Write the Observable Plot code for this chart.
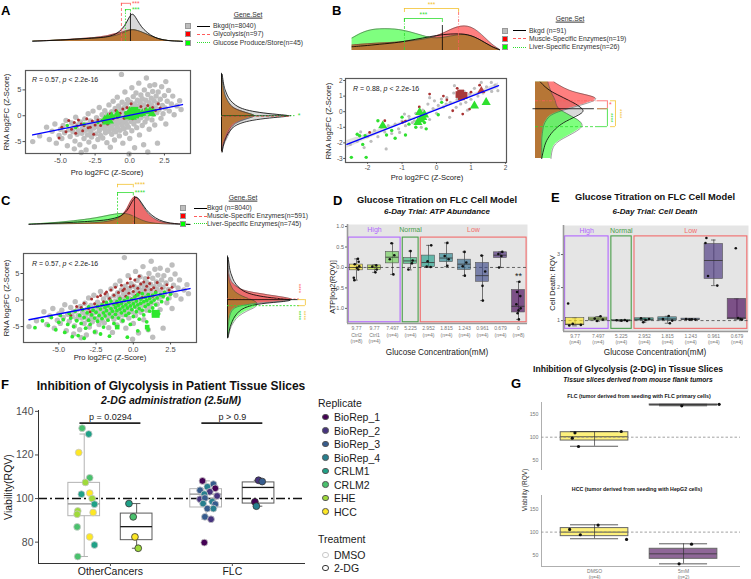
<!DOCTYPE html>
<html>
<head>
<meta charset="utf-8">
<script src="https://cdn.jsdelivr.net/npm/d3@7"></script>
<script src="https://cdn.jsdelivr.net/npm/@observablehq/plot@0.6"></script>
<style>
html,body{margin:0;padding:0;background:#fff;}
#fig{position:relative;width:751px;height:579px;overflow:hidden;font-family:"Liberation Sans",Arial,Helvetica,sans-serif;}
.t{position:absolute;white-space:nowrap;line-height:1;}
</style>
</head>
<body>
<div id="fig"></div>
<script>
// ======================= DATA =======================
// Panels A & C: background genes (Bkgd, n=8040), [Pro log2FC, RNA log2FC]
const bkgdPts = [[-7.0,-5.0],[-6.5,-3.9],[-6.0,-2.2],[-5.8,-4.6],[-5.6,-3.0],[-5.4,-1.6],[-5.3,-5.3],[-5.1,-3.8],[-5.0,-2.6],
[-4.9,-4.4],[-4.8,-1.9],[-4.7,-3.3],[-4.6,-0.9],[-4.5,-5.8],[-4.4,-2.7],[-4.3,-4.0],[-4.2,-1.4],[-4.1,-3.1],[-4.0,-6.4],[-4.0,-2.2],
[-3.95,-4.9],[-3.9,-0.3],[-3.8,-3.6],[-3.75,-1.8],[-3.7,-2.9],[-3.6,-5.6],[-3.55,-1.2],[-3.5,-7.1],[-3.45,-3.4],[-3.4,-2.3],[-3.3,-4.4],[-3.25,-0.6],[-3.2,-2.8],[-3.15,-6.6],[-3.1,-1.7],[-3.05,-3.7],[-3.0,-2.0],[-3.0,0.4],
[-2.95,-5.1],[-2.9,-2.6],[-2.85,-1.0],[-2.8,-3.2],[-2.75,-4.1],[-2.7,-1.9],[-2.65,0.9],[-2.6,-2.4],[-2.55,-6.0],[-2.5,-1.3],[-2.45,-3.5],[-2.4,-0.4],[-2.35,-2.1],[-2.3,-4.6],[-2.25,-1.6],[-2.2,1.6],[-2.2,-2.9],[-2.15,-0.9],[-2.1,-3.8],[-2.05,-1.2],[-2.0,-2.3],[-2.0,0.2],
[-1.95,-4.3],[-1.9,-1.7],[-1.85,-0.5],[-1.8,-2.6],[-1.8,1.0],[-1.75,-3.3],[-1.7,-1.0],[-1.65,-5.2],[-1.6,-2.0],[-1.6,0.3],[-1.55,-1.4],[-1.5,-3.0],[-1.5,2.1],[-1.45,-0.7],[-1.4,-2.4],[-1.4,-6.1],[-1.35,-1.1],[-1.3,0.8],[-1.3,-3.6],[-1.25,-1.8],[-1.2,-0.2],[-1.2,2.8],[-1.15,-2.7],[-1.1,-0.9],[-1.1,-4.7],[-1.05,1.4],[-1.0,-1.5],[-1.0,-0.1],[-1.0,-3.1],
[-0.95,0.6],[-0.9,-2.2],[-0.9,3.6],[-0.85,-0.6],[-0.8,1.9],[-0.8,-1.4],[-0.75,-3.9],[-0.7,0.2],[-0.7,-2.8],[-0.65,1.2],[-0.6,8.0],[-0.6,-0.9],[-0.55,-1.9],[-0.55,2.6],[-0.5,-5.3],[-0.5,0.9],[-0.45,-0.3],[-0.4,-2.5],[-0.4,1.6],[-0.35,4.6],[-0.35,-1.2],[-0.3,0.4],[-0.3,-3.4],[-0.25,2.2],[-0.2,-0.7],[-0.2,-1.7],[-0.15,3.1],[-0.1,0.1],[-0.1,-2.2],[-0.05,1.3],[-0.05,-7.4],[0.0,-0.4],[0.0,-4.4],
[0.05,2.6],[0.1,-1.1],[0.1,0.7],[0.15,5.4],[0.15,-2.9],[0.2,1.8],[0.2,-0.2],[0.25,3.7],[0.3,-1.6],[0.3,0.9],[0.35,-6.2],[0.35,2.3],[0.4,-0.7],[0.45,1.4],[0.45,4.4],[0.5,-2.3],[0.5,0.3],[0.55,3.0],[0.6,-1.0],[0.6,1.9],[0.65,6.3],[0.7,0.6],[0.7,-3.7],[0.75,2.6],[0.8,-0.4],[0.8,4.0],[0.85,1.2],[0.9,-1.9],[0.9,3.3],[0.95,0.0],[1.0,2.1],[1.0,-5.6],
[1.05,5.0],[1.1,0.9],[1.1,-1.2],[1.15,3.0],[1.2,7.3],[1.2,1.7],[1.25,-0.5],[1.3,4.1],[1.35,0.4],[1.4,2.5],[1.4,-2.6],[1.45,5.8],[1.5,1.1],[1.55,3.4],[1.6,-0.8],[1.6,2.0],[1.65,4.7],[1.7,0.3],[1.75,2.9],[1.8,-1.8],[1.8,6.0],[1.85,1.5],[1.9,3.8],[1.95,0.6],[2.0,2.4],[2.0,-5.3],
[2.05,4.6],[2.1,1.2],[2.2,3.2],[2.25,-0.5],[2.3,5.6],[2.35,2.0],[2.4,0.4],[2.5,3.9],[2.55,1.5],[2.6,-1.6],[2.7,2.8],[2.8,4.9],[2.85,0.9],[3.0,2.3],[3.1,3.8],[3.2,0.2],[3.4,1.9],[3.6,2.9],[3.7,1.2],[2.6,6.6],[1.3,-7.0]];
const fitAC = [[-7.0,-3.7],[3.8,2.15]];
// Panel A: Glycolysis (n=97)
const glyPts = [[-5.1,-4.3],[-4.9,-2.2],[-4.6,-3.1],[-4.4,-0.9],[-4.2,-2.6],[-4.0,-1.3],[-3.8,-2.0],[-3.7,-0.8],[-3.5,-1.6],[-3.4,-2.9],[-3.3,-1.9],[-3.1,-0.6],[-3.0,-2.3],[-2.85,-2.2],[-2.7,-1.0],[-2.5,-1.8],[-2.3,-0.8],[-2.1,-1.9],[-1.9,-1.2],[-1.75,-0.3],[-1.6,-1.6],[-1.4,0.4],[-1.2,-0.6],[-1.0,1.0],[-0.9,-0.3],[-0.7,0.5],[-0.5,1.3],[-0.4,-0.5],[-0.2,1.6],[-0.1,0.3],[0.1,2.3],[0.2,-0.6],[0.35,1.2],[0.5,0.1],[0.7,0.7],[0.8,1.8],[1.0,0.4],[1.15,1.3],[1.3,2.0],[1.5,0.8],[1.65,1.6],[1.85,1.0],[2.05,2.3],[2.2,1.5],[-2.6,-3.6],[-3.9,-3.4]];
// Panel A: Glucose Produce/Store (n=45)
const gluDots = [[-4.5,-1.9],[-3.9,-2.3],[-3.3,-1.6],[-2.3,-1.3],[-2.0,-0.9],[-0.8,-0.2],[0.9,0.2],[1.7,1.1],[-0.3,0.6],[0.6,0.9]];
const gluTri = [[-1.8,-0.7],[-1.6,-0.4],[-1.45,-1.0],[-1.3,-0.1],[-0.9,0.3],[-0.2,0.1],[0.1,0.5],[0.2,-0.3],[0.65,0.3],[0.9,0.5],[1.2,0.8],[1.45,0.9],[1.6,0.4],[-1.7,-1.2],[0.0,0.9],[-0.1,-0.2]];
const gluSq = [[0.35,1.0],[0.5,0.6],[0.4,0.2]];
// Panel C: Muscle-Specific (n=591), Liver-Specific (n=745)
const musclePtsC = [[-4.2,-2.9],[-3.8,-1.2],[-3.5,-1.4],[-3.3,-0.6],[-3.0,-1.6],[-2.8,0.2],[-2.6,-0.7],[-2.4,0.6],[-2.2,0.85],[-2.0,-0.3],[-1.9,1.2],[-1.8,1.5],[-1.6,0.3],[-1.5,1.9],[-1.3,0.9],[-1.2,2.4],[-1.0,1.4],[-0.9,0.4],[-0.8,2.8],[-0.7,1.8],[-0.6,2.1],[-0.5,0.7],[-0.4,3.2],[-0.3,1.3],[-0.2,2.5],[-0.1,0.2],[0.0,2.7],[0.0,1.6],[0.1,3.8],[0.2,0.9],[0.3,2.2],[0.4,1.4],[0.5,3.0],[0.6,0.5],[0.7,3.4],[0.8,1.9],[0.9,2.6],[1.0,1.1],[1.1,3.1],[1.2,2.0],[1.3,0.7],[1.37,2.3],[1.5,1.6],[1.6,3.3],[1.8,1.0],[1.9,2.2],[2.1,1.4],[2.25,2.9],[2.4,1.9],[-2.9,-2.2],[-1.1,-0.6],[0.4,4.5],[-0.2,4.0],[1.0,4.2],[2.6,2.4]];
const liverPtsC = [[-6.6,-5.2],[-6.1,-3.9],[-5.7,-4.8],[-5.5,-3.3],[-5.2,-5.6],[-5.0,-4.2],[-4.9,-2.9],[-4.7,-3.7],[-4.6,-6.1],[-4.4,-4.6],[-4.3,-2.5],[-4.2,-3.4],[-4.0,-5.0],[-3.9,-2.1],[-3.8,-3.9],[-3.7,-6.7],[-3.6,-2.9],[-3.5,-4.4],[-3.4,-1.8],[-3.3,-3.3],[-3.2,-5.3],[-3.1,-2.4],[-3.0,-3.8],[-3.0,-1.3],[-2.9,-4.6],[-2.8,-2.8],[-2.7,-1.9],[-2.6,-3.4],[-2.6,-6.0],[-2.5,-2.3],[-2.4,-1.2],[-2.4,-4.0],[-2.3,-2.9],[-2.2,-1.7],[-2.1,-3.5],[-2.1,-0.9],[-2.0,-2.4],[-2.0,-5.1],[-1.9,-1.4],[-1.9,-3.0],[-1.8,-2.0],[-1.8,-0.5],[-1.7,-3.8],[-1.7,-1.1],[-1.6,-2.6],[-1.6,-6.8],[-1.5,-1.6],[-1.5,-0.2],[-1.4,-3.2],[-1.4,-2.1],[-1.3,-0.8],[-1.3,-4.4],[-1.2,-1.4],[-1.2,-2.7],[-1.1,-0.3],[-1.1,-2.0],[-1.0,-1.0],[-1.0,-3.4],[-0.9,-1.7],[-0.9,0.2],[-0.8,-2.4],[-0.8,-0.6],[-0.7,-1.3],[-0.7,-3.9],[-0.6,-0.1],[-0.6,-2.0],[-0.5,-0.9],[-0.5,-2.9],[-0.4,0.4],[-0.4,-1.5],[-0.3,-0.4],[-0.3,-2.5],[-0.2,-1.1],[-0.2,-4.6],[-0.1,0.1],[-0.1,-1.8],[0.0,-0.7],[0.0,-3.1],[0.1,0.6],[0.1,-1.3],[0.2,-0.2],[0.2,-2.2],[0.3,-0.9],[0.3,1.0],[0.4,-1.6],[0.4,-3.6],[0.5,0.2],[0.5,-0.6],[0.6,-1.9],[0.6,1.2],[0.7,-0.3],[0.7,-2.8],[0.8,0.5],[0.8,-1.2],[0.9,-0.1],[0.9,-4.1],[1.0,1.0],[1.0,-0.8],[1.1,-2.1],[1.1,0.3],[1.2,-0.4],[1.3,0.9],[1.3,-1.5],[1.4,0.0],[1.5,1.4],[1.5,-0.9],[1.6,0.4],[1.7,-2.6],[1.8,1.0],[1.9,-0.3],[2.0,0.7],[2.1,1.5],[2.3,0.2],[2.5,1.1],[-3.3,-7.2],[-4.1,-6.9],[-2.2,-6.4],[0.3,-5.8],[-0.4,-7.0],[1.0,-5.6]];
const liverSqC = [[1.5,-2.6]];
const liverSqSmallC = [[-1.08,-5.1],[0.93,-5.1]];
// Panel B
const bkgdPtsB = [[-2.5,-2.1],[-2.3,-1.9],[-2.2,-1.3],[-2.0,-1.6],[-1.9,-1.9],[-1.8,-1.2],[-1.7,-1.6],[-1.6,-1.0],[-1.5,-1.3],[-1.46,-2.39],[-1.4,-0.9],[-1.3,-1.4],[-1.2,-0.8],[-1.1,-1.1],[-1.07,-1.33],[-1.0,-0.6],[-0.93,-0.15],[-0.9,-0.9],[-0.8,-0.3],[-0.78,-0.47],[-0.7,-0.7],[-0.64,-0.58],[-0.6,-0.1],[-0.5,-0.35],[-0.44,-1.0],[-0.4,0.1],[-0.3,-0.2],[-0.25,0.49],[-0.2,-0.5],[-0.1,0.2],[-0.06,0.7],[0.0,-0.1],[0.05,0.4],[0.14,0.81],[0.2,0.3],[0.28,0.49],[0.3,0.9],[0.38,-0.36],[0.4,0.6],[0.5,1.2],[0.52,1.67],[0.57,0.28],[0.6,0.8],[0.7,0.5],[0.8,1.3],[0.85,0.6],[0.96,1.13],[1.0,0.8],[1.1,1.5],[1.2,1.0],[1.3,1.88],[1.35,1.2],[1.45,1.6],[1.59,1.88],[1.6,1.3],[1.7,1.7],[1.78,1.35],[-2.1,-2.3],[-0.2,0.9],[0.9,0.1]];
const musclePtsB = [[-1.94,-1.33],[-1.5,-0.58],[-0.98,-0.68],[-0.9,-0.6],[-0.2,1.13],[0.2,1.0],[0.47,0.06],[0.76,-0.15],[0.96,0.17],[0.3,0.75],[1.0,1.25],[0.6,1.5],[-0.5,0.3],[1.25,1.7],[0.85,0.9]];
const muscleSqB = [[0.65,1.1],[0.72,0.95],[0.8,1.05],[0.7,1.2]];
const muscleTriB = [[1.3,1.35]];
const liverPtsB = [[-2.47,-2.93],[-2.04,-2.93],[-2.23,-1.54],[-2.07,-1.54],[-2.14,-2.1],[-2.3,-1.45],[-1.7,-0.58],[-1.45,-1.5],[-1.3,-1.2],[-1.2,-1.7],[-1.0,-0.35],[-0.9,-1.5],[-0.8,-0.8],[-0.6,-1.0],[-0.35,-0.7],[0.05,-0.2],[0.15,0.6],[-0.3,-1.1]];
const liverTriB = [[-0.49,-0.04],[-0.4,-0.36],[-0.54,-0.68],[-0.45,-0.5],[-0.35,-0.2],[-1.56,-0.9],[1.1,0.38],[1.44,0.6]];
const fitB = [[-2.6,-2.1],[1.8,1.67]];
const bandB = [[-2.6,-2.35,-1.85],[-1.0,-0.81,-0.65],[0.0,0.06,0.2],[1.0,0.9,1.08],[1.8,1.48,1.86]];
// Marginal densities (1 = tallest peak)
const densAx   = [-7.0,-6,-5,-4,-3,-2,-1.5,-1,-0.5,-0.2,0,0.2,0.4,0.7,1,1.5,2,2.5,3,3.8];
const densAbk  = [0.01,0.03,0.05,0.08,0.11,0.14,0.18,0.25,0.45,0.7,0.9,1.0,0.88,0.62,0.42,0.22,0.1,0.05,0.02,0.005];
const densAgly = [0.01,0.03,0.06,0.09,0.12,0.17,0.22,0.28,0.34,0.39,0.41,0.42,0.41,0.37,0.31,0.2,0.11,0.05,0.02,0.005];
const densAglu = [0.01,0.03,0.05,0.08,0.11,0.14,0.17,0.21,0.3,0.37,0.41,0.42,0.41,0.37,0.31,0.2,0.11,0.05,0.02,0.005];
const densAy    = [8,6,5,4,3,2,1.5,1,0.5,0.2,0,-0.2,-0.5,-1,-1.5,-2,-3,-4,-5,-6,-7];
const densAybk  = [0.01,0.03,0.05,0.08,0.12,0.2,0.27,0.38,0.6,0.85,1.0,0.88,0.62,0.38,0.26,0.18,0.11,0.07,0.04,0.02,0.01];
const densAygly = [0,0.02,0.03,0.05,0.08,0.13,0.18,0.26,0.38,0.45,0.47,0.45,0.38,0.27,0.2,0.16,0.12,0.09,0.05,0.02,0.01];
const densAyglu = [0,0.02,0.03,0.05,0.08,0.13,0.17,0.25,0.38,0.46,0.48,0.45,0.37,0.25,0.18,0.14,0.09,0.06,0.03,0.01,0.005];
const densBx   = [-2.45,-2.2,-2,-1.8,-1.5,-1.2,-1,-0.8,-0.6,-0.4,-0.2,0,0.2,0.4,0.6,0.8,1,1.2,1.4,1.6,1.83];
const densBbk  = [0.15,0.18,0.2,0.23,0.27,0.31,0.35,0.4,0.45,0.5,0.55,0.6,0.64,0.66,0.67,0.66,0.6,0.48,0.32,0.15,0.03];
const densBmus = [0.22,0.25,0.27,0.29,0.31,0.33,0.35,0.38,0.41,0.45,0.5,0.58,0.7,0.84,0.95,1.0,0.95,0.78,0.52,0.25,0.04];
const densBliv = [0.5,0.7,0.8,0.86,0.88,0.86,0.82,0.76,0.68,0.6,0.52,0.5,0.52,0.58,0.63,0.65,0.6,0.48,0.32,0.15,0.03];
const densBy    = [1.9,1.6,1.3,1.1,0.9,0.7,0.5,0.3,0.1,-0.1,-0.3,-0.5,-0.7,-0.9,-1.1,-1.4,-1.7,-2.0,-2.3,-2.6,-3.0];
const densBybk  = [0.08,0.15,0.25,0.35,0.45,0.55,0.65,0.72,0.78,0.75,0.65,0.55,0.45,0.38,0.32,0.25,0.2,0.16,0.14,0.12,0.1];
const densBymus = [0.3,0.42,0.58,0.8,1.0,0.95,0.8,0.62,0.45,0.3,0.22,0.18,0.15,0.13,0.12,0.11,0.1,0.1,0.1,0.1,0.1];
const densByliv = [0.2,0.22,0.25,0.27,0.3,0.32,0.33,0.35,0.4,0.5,0.58,0.68,0.74,0.76,0.72,0.6,0.45,0.33,0.28,0.26,0.25];
const densCx   = [-7.0,-6,-5,-4,-3,-2.5,-2,-1.5,-1,-0.7,-0.4,-0.2,0,0.2,0.4,0.7,1,1.5,2,2.5,3,3.8];
const densCbk  = [0.01,0.03,0.05,0.08,0.11,0.13,0.15,0.19,0.26,0.35,0.5,0.7,0.9,1.0,0.9,0.65,0.43,0.22,0.1,0.05,0.02,0.005];
const densCmus = [0,0.01,0.02,0.03,0.05,0.07,0.09,0.13,0.22,0.35,0.58,0.82,0.98,1.0,0.88,0.6,0.36,0.16,0.07,0.03,0.01,0];
const densCliv = [0.01,0.04,0.08,0.13,0.2,0.24,0.29,0.35,0.39,0.4,0.38,0.35,0.3,0.25,0.2,0.13,0.08,0.04,0.02,0.01,0,0];
const densCy    = [8,6,5,4,3,2,1.5,1,0.5,0.2,0,-0.3,-0.6,-1,-1.5,-2,-3,-4,-5,-6,-7];
const densCybk  = [0.01,0.03,0.05,0.08,0.12,0.2,0.27,0.38,0.6,0.85,1.0,0.85,0.55,0.36,0.25,0.18,0.11,0.07,0.04,0.02,0.01];
const densCymus = [0,0.01,0.02,0.04,0.08,0.2,0.35,0.6,0.88,0.98,0.97,0.75,0.45,0.2,0.1,0.06,0.03,0.02,0.01,0,0];
const densCyliv = [0,0.01,0.01,0.02,0.04,0.08,0.12,0.18,0.27,0.34,0.38,0.43,0.45,0.45,0.4,0.3,0.16,0.1,0.05,0.03,0.01];
// medians of each gene set
const medA  = {bk:0.05, gly:-0.6, glu:-0.31};
const medAy = {bk:0.0, gly:-0.1, glu:0.02};
const medB  = {bk:0.17, mus:0.64, liv:-0.93};
const medBy = {bk:0.19, mus:0.7, liv:-0.96};
const medC  = {bk:0.08, mus:0.0, liv:-1.06};
const medCy = {bk:0.08, mus:0.2, liv:-1.06};

// Panel D: ATP abundance
const dLabels = ["9.77\nCtrl2\n(n=8)","9.77\nCtrl1\n(n=4)","7.497\n(n=4)","5.225\n(n=4)","2.952\n(n=4)","1.815\n(n=4)","1.243\n(n=4)","0.961\n(n=4)","0.679\n(n=4)","0\n(n=8)"];
const dQ1  = [-0.07,-0.06,0.10,0.09,0.01,0.13,-0.06,-0.35,0.23,-1.10];
const dMed = [0.00,0.00,0.25,0.16,0.12,0.23,0.08,-0.20,0.30,-0.95];
const dQ3  = [0.07,0.05,0.38,0.23,0.29,0.33,0.19,0.11,0.37,-0.55];
const dLo  = [-0.31,-0.12,-0.17,-0.06,0.00,0.02,-0.20,-0.81,0.00,-1.27];
const dHi  = [0.21,0.06,0.59,0.40,0.54,0.60,0.38,0.29,0.38,-0.35];
const dPts = [[0,0.21,0.08],[0,0.14,0.12],[0,0.08,-0.1],[0,0.03,0.15],[0,-0.01,0.02],[0,-0.05,0.1],[0,-0.25,-0.15],[0,-0.31,-0.12],
[1,0.05,0.1],[1,0.02,-0.12],[1,-0.05,0.12],[1,-0.12,0.05],
[2,0.59,-0.05],[2,0.3,0.1],[2,0.2,-0.15],[2,-0.17,0.05],
[3,0.40,0.0],[3,0.17,0.12],[3,0.10,0.08],[3,-0.05,-0.12],
[4,0.54,0.15],[4,0.15,-0.05],[4,0.02,-0.1],[4,0.01,0.12],
[5,0.60,0.05],[5,0.28,-0.1],[5,0.20,0.12],[5,0.04,0.05],
[6,0.38,0.0],[6,0.12,0.1],[6,0.03,-0.1],[6,-0.20,0.02],
[7,0.29,-0.05],[7,-0.1,0.15],[7,-0.45,0.0],[7,-0.81,0.02],
[8,0.38,0.1],[8,0.33,-0.12],[8,0.28,0.05],[8,0.00,-0.08],
[9,-0.35,0.05],[9,-0.60,-0.08],[9,-0.70,0.1],[9,-0.90,-0.12],[9,-1.00,0.12],[9,-1.05,0.0],[9,-1.12,-0.05],[9,-1.27,0.02]];
const dGroups = [{label:"High",first:0,last:2,color:"#b266ff"},{label:"Normal",first:3,last:3,color:"#4a9e4a"},{label:"Low",first:4,last:9,color:"#f26b6b"}];
const dSig = [{i:9, v:-0.22, lab:"**"}];

// Panel E: cell death
const eLabels = ["9.77\n(n=4)","7.497\n(n=4)","5.225\n(n=4)","2.952\n(n=4)","1.815\n(n=4)","1.243\n(n=4)","0.961\n(n=4)","0.679\n(n=4)"];
const eQ1  = [0.86,1.00,0.99,1.00,1.00,1.02,2.26,1.04];
const eMed = [0.89,1.05,1.00,1.04,1.05,1.04,2.82,1.08];
const eQ3  = [1.08,1.09,1.02,1.07,1.10,1.06,3.32,1.66];
const eLo  = [0.84,0.98,0.98,0.95,0.92,1.02,2.06,1.03];
const eHi  = [1.08,1.12,1.02,1.07,1.13,1.06,3.44,1.66];
const ePts = [[0,1.52,-0.3],[0,0.90,-0.1],[0,0.87,0.25],[0,0.85,-0.25],
[1,1.13,0.1],[1,1.06,-0.15],[1,1.03,0.2],[1,0.99,-0.05],
[2,1.02,0.15],[2,1.01,-0.2],[2,1.00,0.0],[2,0.99,0.25],
[3,1.07,-0.15],[3,1.05,0.2],[3,1.02,0.05],[3,0.95,-0.05],
[4,1.14,0.05],[4,1.05,-0.2],[4,1.00,0.2],[4,0.92,0.1],
[5,1.05,-0.2],[5,1.04,0.05],[5,1.03,0.2],[5,1.03,-0.05],
[6,3.50,-0.32],[6,3.35,-0.36],[6,2.35,-0.25],[6,2.06,0.15],
[7,3.19,-0.05],[7,1.08,0.05],[7,1.05,0.15],[7,1.03,0.22]];
const eGroups = [{label:"High",first:0,last:1,color:"#b266ff"},{label:"Normal",first:2,last:2,color:"#4a9e4a"},{label:"Low",first:3,last:7,color:"#f26b6b"}];

// Panel F: patient tissue slices
const fGroupsX = ["OtherCancers","FLC"];
const fTreat = ["DMSO","2-DG"];
const fReps = ["BioRep_1","BioRep_2","BioRep_3","BioRep_4","CRLM1","CRLM2","EHE","HCC"];
const fStats = [
 {grp:"OtherCancers",trt:"DMSO",q1:91.9,med:97.6,q3:107.2,lo:73.4,hi:129.6},
 {grp:"OtherCancers",trt:"2-DG",q1:80.9,med:87.1,q3:93.1,lo:77.2,hi:97.7},
 {grp:"FLC",trt:"DMSO",q1:95.9,med:102.0,q3:104.3,lo:90.5,hi:108.1},
 {grp:"FLC",trt:"2-DG",q1:97.7,med:105.1,q3:107.4,lo:96.5,hi:108.4}];
const fPts = [
 ["OtherCancers","DMSO","CRLM2",132.3,-0.017],["OtherCancers","DMSO","CRLM1",129.6,0.037],["OtherCancers","DMSO","HCC",121.1,-0.045],
 ["OtherCancers","DMSO","CRLM2",109.5,0.045],["OtherCancers","DMSO","EHE",107.4,0.01],["OtherCancers","DMSO","HCC",102.5,0.045],
 ["OtherCancers","DMSO","CRLM1",102.0,-0.023],["OtherCancers","DMSO","EHE",100.0,0.065],["OtherCancers","DMSO","CRLM1",97.4,0.084],
 ["OtherCancers","DMSO","HCC",93.6,0.073],["OtherCancers","DMSO","EHE",94.3,-0.053],["OtherCancers","DMSO","EHE",92.8,-0.058],
 ["OtherCancers","DMSO","CRLM2",87.0,-0.058],["OtherCancers","DMSO","HCC",82.4,0.045],["OtherCancers","DMSO","CRLM1",78.7,0.084],
 ["OtherCancers","DMSO","CRLM2",73.4,-0.053],
 ["OtherCancers","2-DG","CRLM1",97.7,-0.063],["OtherCancers","2-DG","CRLM2",91.6,-0.028],["OtherCancers","2-DG","HCC",82.4,-0.014],["OtherCancers","2-DG","EHE",77.2,0.013],
 ["FLC","DMSO","BioRep_1",108.1,-0.03],["FLC","DMSO","BioRep_3",106.6,0.06],["FLC","DMSO","BioRep_4",105.4,0.01],["FLC","DMSO","BioRep_1",104.7,0.075],
 ["FLC","DMSO","BioRep_3",103.8,-0.05],["FLC","DMSO","BioRep_2",103.1,0.03],["FLC","DMSO","BioRep_4",102.0,-0.015],["FLC","DMSO","BioRep_2",101.2,0.09],
 ["FLC","DMSO","BioRep_2",99.7,-0.05],["FLC","DMSO","BioRep_3",100.2,-0.01],["FLC","DMSO","BioRep_4",98.6,0.05],["FLC","DMSO","BioRep_3",97.4,0.075],
 ["FLC","DMSO","BioRep_4",97.7,-0.025],["FLC","DMSO","BioRep_3",95.4,0.01],["FLC","DMSO","BioRep_4",95.4,0.06],["FLC","DMSO","BioRep_3",91.6,-0.01],
 ["FLC","DMSO","BioRep_2",90.5,0.04],["FLC","DMSO","BioRep_1",79.8,-0.015],
 ["FLC","2-DG","BioRep_2",108.4,0.0],["FLC","2-DG","BioRep_3",107.8,0.03],["FLC","2-DG","BioRep_1",98.5,-0.03],["FLC","2-DG","BioRep_4",96.5,-0.018]];
const fSig = [{grp:"OtherCancers",y:134.6,lab:"p = 0.0294"},{grp:"FLC",y:134.6,lab:"p > 0.9"}];

// Panel G: mouse flank tumour slices
const gTreat = ["DMSO\n(n=4)","5mM\n(n=2)"];
const gStatsFLC = [{t:0,q1:92.6,med:101,q3:111,lo:80,hi:112.5},{t:1,q1:170.3,med:171.3,q3:172.3,lo:169.3,hi:172.6}];
const gStatsHCC = [{t:0,q1:91.2,med:100,q3:108.8,lo:85.5,hi:116},{t:1,q1:41.7,med:52.6,q3:63.6,lo:30.7,hi:74.5}];
const gPtsFLC = [[0,109.7,-0.22],[0,97.8,-0.25],[0,79.5,-0.18],[0,112.6,0.3],[1,169.3,-0.02],[1,172.6,0.4]];
const gPtsHCC = [[0,105.9,-0.28],[0,94.3,-0.16],[0,115.3,0.04],[0,84.0,0.36],[1,73.7,0.09],[1,30.8,-0.05]];

// ======================= RENDERING =======================
const FONT = "Liberation Sans, Arial, Helvetica, sans-serif";
const fig = document.getElementById("fig");
function put(node, left, top){ Object.assign(node.style,{position:"absolute",left:left+"px",top:top+"px"}); fig.appendChild(node); }
function txt(s, x, y, o = {}){
  const d = document.createElement("div");
  d.className = "t";
  if (o.html) d.innerHTML = s; else d.textContent = s;
  d.style.fontSize = (o.size || 8) + "px";
  if (o.bold) d.style.fontWeight = "bold";
  if (o.italic) d.style.fontStyle = "italic";
  if (o.underline) d.style.textDecoration = "underline";
  d.style.color = o.color || "#1a1a1a";
  const ax = o.anchor === "middle" ? -50 : o.anchor === "end" ? -100 : 0;
  d.style.left = x + "px"; d.style.top = y + "px";
  d.style.transform = `translate(${ax}%,-50%)` + (o.rotate ? ` rotate(${o.rotate}deg)` : "");
  fig.appendChild(d);
}
function box(x, y, w, h, css){ const d = document.createElement("div"); Object.assign(d.style,{position:"absolute",left:x+"px",top:y+"px",width:w+"px",height:h+"px"}, css); fig.appendChild(d); }
const sty = (fs, col) => ({background:"transparent", fontFamily:FONT, fontSize:fs+"px", color:col || "#4d4d4d", overflow:"visible"});
const xy = {x:d=>d[0], y:d=>d[1]};

// density helpers
const rowsH = (xs,bk,r,g) => xs.map((p,i)=>({p, bk:bk[i], r:r[i], g:g[i]}));
const rowsV = (ys,bk,r,g) => ys.map((q,i)=>({q, bk:bk[i], r:r[i], g:g[i]}));
function hDens(rows){ return [
  Plot.areaY(rows,{x:"p",y:"bk",fill:"#d9d9d9",curve:"basis"}),
  Plot.areaY(rows,{x:"p",y:"g",fill:"#00ff00",fillOpacity:0.5,curve:"basis"}),
  Plot.areaY(rows,{x:"p",y:"r",fill:"#ff0000",fillOpacity:0.5,curve:"basis"}),
  Plot.lineY(rows,{x:"p",y:"g",stroke:"#3a3a3a",strokeWidth:0.5,curve:"basis"}),
  Plot.lineY(rows,{x:"p",y:"r",stroke:"#3a3a3a",strokeWidth:0.5,curve:"basis"}),
  Plot.lineY(rows,{x:"p",y:"bk",stroke:"#000",strokeWidth:0.8,curve:"basis"})]; }
function vDens(rows){ return [
  Plot.areaX(rows,{y:"q",x:"bk",fill:"#d9d9d9",curve:"basis"}),
  Plot.areaX(rows,{y:"q",x:"g",fill:"#00ff00",fillOpacity:0.5,curve:"basis"}),
  Plot.areaX(rows,{y:"q",x:"r",fill:"#ff0000",fillOpacity:0.5,curve:"basis"}),
  Plot.lineX(rows,{y:"q",x:"g",stroke:"#3a3a3a",strokeWidth:0.5,curve:"basis"}),
  Plot.lineX(rows,{y:"q",x:"r",stroke:"#3a3a3a",strokeWidth:0.5,curve:"basis"}),
  Plot.lineX(rows,{y:"q",x:"bk",stroke:"#000",strokeWidth:0.8,curve:"basis"})]; }
function hBr(br){ return [
  Plot.ruleY(br,{y:"lev",x1:"a",x2:"b",stroke:"col",strokeWidth:0.8}),
  Plot.ruleX(br,{x:"a",y1:"lev",y2:d=>d.lev-d.drop,stroke:"col",strokeWidth:0.8}),
  Plot.ruleX(br,{x:"b",y1:"lev",y2:d=>d.lev-d.drop,stroke:"col",strokeWidth:0.8})]; }
function vBr(br){ return [
  Plot.ruleX(br,{x:"x",y1:"a",y2:"b",stroke:"col",strokeWidth:0.8}),
  Plot.ruleY(br,{y:"a",x1:"x0",x2:"x",stroke:"col",strokeWidth:0.8}),
  Plot.ruleY(br,{y:"b",x1:"x0",x2:"x",stroke:"col",strokeWidth:0.8})]; }
const RED = "#ff5c5c", GRN = "#2fdc2f", YEL = "#f2c12e";
function scatterAxes(xt, xf, yt, fs, ts, tp){ return [
  Plot.axisX({ticks:xt,tickFormat:xf,tickSize:ts,tickPadding:tp,fontSize:fs,label:null}),
  Plot.axisY({ticks:yt,tickFormat:d=>String(d),tickSize:ts,tickPadding:tp,fontSize:fs,label:null})]; }

// ---------------- Panel A ----------------
const xDomA = [-7.52,4.38], yDomA = [-7.3,8.75];
put(Plot.plot({width:200,height:125,marginLeft:25,marginRight:10,marginTop:10,marginBottom:32,style:sty(7.5),
  x:{domain:xDomA}, y:{domain:yDomA},
  marks:[
    Plot.dot(bkgdPts,{...xy,r:2.7,fill:"#bebebe"}),
    Plot.dot(glyPts,{...xy,r:1.5,fill:"#a83232"}),
    Plot.dot(gluDots,{...xy,r:1.7,fill:"#2fe02f"}),
    Plot.dot(gluTri,{...xy,r:3.2,symbol:"triangle",fill:"#2fe02f"}),
    Plot.dot(gluSq,{...xy,r:4.2,symbol:"square",fill:"#2fe02f"}),
    Plot.line(fitAC,{...xy,stroke:"#0000ff",strokeWidth:1.5}),
    Plot.frame({stroke:"#595959",strokeWidth:1.2}),
    ...scatterAxes([-5,-2.5,0,2.5], d=>d.toFixed(1), [-5,0,5], 7.5, 2.5, 1.5)
  ]}), 0, 60);
const brA = [{a:medA.gly,b:medA.bk,lev:1.35,drop:0.09,col:RED,lab:"***"},{a:medA.glu,b:medA.bk,lev:1.13,drop:0.09,col:GRN,lab:"***"}];
put(Plot.plot({width:200,height:45,marginLeft:25,marginRight:10,marginTop:0,marginBottom:4,style:sty(6),color:{type:"identity"},
  x:{domain:xDomA,axis:null}, y:{domain:[0,1.45],axis:null},
  marks:[...hDens(rowsH(densAx,densAbk,densAgly,densAglu)),
    Plot.ruleX([medA.gly],{y1:0,y2:1.35,stroke:RED,strokeDasharray:"3,2",strokeWidth:0.8}),
    Plot.ruleX([medA.glu],{y1:0,y2:1.13,stroke:GRN,strokeDasharray:"1.5,1.5",strokeWidth:0.8}),
    Plot.ruleX([medA.bk],{y1:0,y2:1.0,stroke:"#000",strokeWidth:0.8}),
    ...hBr(brA),
    Plot.text(brA,{x:"b",y:"lev",text:"lab",fill:"col",dx:1.5,dy:0.5,textAnchor:"start",fontSize:6.5})
  ]}), 0, 0);
put(Plot.plot({width:90,height:125,marginLeft:6,marginRight:14,marginTop:10,marginBottom:32,style:sty(6),color:{type:"identity"},
  x:{domain:[0,1],axis:null}, y:{domain:yDomA,axis:null},
  marks:[...vDens(rowsV(densAy,densAybk,densAygly,densAyglu)),
    Plot.ruleX([0],{y1:-6.9,y2:8.2,stroke:"#000",strokeWidth:0.8}),
    Plot.ruleY([medAy.gly],{x1:0,x2:1.0,stroke:RED,strokeDasharray:"3,2",strokeWidth:0.8}),
    Plot.ruleY([medAy.glu],{x1:0,x2:1.06,stroke:GRN,strokeDasharray:"1.5,1.5",strokeWidth:0.9}),
    Plot.ruleY([medAy.bk],{x1:0,x2:1.0,stroke:"#000",strokeWidth:0.6}),
    Plot.text([medAy.glu],{x:1.09,y:d=>d,text:["*"],fill:GRN,fontSize:7,textAnchor:"start"})
  ]}), 215, 60);

// ---------------- Panel B ----------------
const xDomB = [-2.64,2.03], yDomB = [-3.26,2.13];
put(Plot.plot({width:195,height:115,marginLeft:25,marginRight:9,marginTop:8,marginBottom:23,style:sty(6.5),
  x:{domain:xDomB}, y:{domain:yDomB},
  marks:[
    Plot.areaY(bandB,{x:d=>d[0],y1:d=>d[1],y2:d=>d[2],fill:"#bbbbbb",fillOpacity:0.45,curve:"natural"}),
    Plot.dot(bkgdPtsB,{...xy,r:1.6,fill:"#bdbdbd"}),
    Plot.dot(musclePtsB,{...xy,r:1.4,fill:"#a83232"}),
    Plot.dot(muscleSqB,{...xy,r:3.8,symbol:"square",fill:"#a83a3a"}),
    Plot.dot(muscleTriB,{...xy,r:3,symbol:"triangle",fill:"#b84040"}),
    Plot.dot(liverPtsB,{...xy,r:1.7,fill:"#2fe02f"}),
    Plot.dot(liverTriB,{...xy,r:3.4,symbol:"triangle",fill:"#2fe02f"}),
    Plot.line(fitB,{...xy,stroke:"#0000ff",strokeWidth:1.3}),
    Plot.frame({stroke:"#595959",strokeWidth:1.2}),
    ...scatterAxes([-2,-1,0,1,2], d=>String(d), [-3,-2,-1,0,1,2], 6.5, 1.8, 1)
  ]}), 320, 70);
const brB = [{a:medB.liv,b:medB.mus,lev:1.68,drop:0.16,col:YEL,lab:"***"},{a:medB.liv,b:medB.bk,lev:1.28,drop:0.16,col:GRN,lab:"***"}];
put(Plot.plot({width:195,height:52,marginLeft:25,marginRight:9,marginTop:0,marginBottom:2,style:sty(6),color:{type:"identity"},
  x:{domain:xDomB,axis:null}, y:{domain:[0,2],axis:null},
  marks:[...hDens(rowsH(densBx,densBbk,densBmus,densBliv)),
    Plot.ruleX([medB.liv],{y1:0,y2:1.28,stroke:GRN,strokeDasharray:"3,1.5,1,1.5",strokeWidth:0.8}),
    Plot.ruleX([medB.mus],{y1:0,y2:1.68,stroke:RED,strokeDasharray:"3,1.5,1,1.5",strokeWidth:0.8}),
    Plot.ruleX([medB.bk],{y1:0,y2:1.0,stroke:"#000",strokeWidth:0.8}),
    ...hBr(brB),
    Plot.text(brB,{x:d=>(d.a+d.b)/2,y:"lev",text:"lab",fill:"col",dy:-3.5,fontSize:6.5})
  ]}), 320, 0);
const brBy = [{x:1.16,x0:1.0,a:medBy.mus,b:medBy.bk,col:RED},{x:1.16,x0:1.0,a:medBy.bk,b:medBy.liv,col:GRN},{x:1.29,x0:1.21,a:medBy.mus,b:medBy.liv,col:YEL}];
put(Plot.plot({width:100,height:115,marginLeft:5,marginRight:33,marginTop:8,marginBottom:23,style:sty(6),color:{type:"identity"},
  x:{domain:[0,1],axis:null}, y:{domain:yDomB,axis:null},
  marks:[...vDens(rowsV(densBy,densBybk,densBymus,densByliv)),
    Plot.ruleY([medBy.mus],{x1:0,x2:1.0,stroke:RED,strokeDasharray:"3,1.5,1,1.5",strokeWidth:0.8}),
    Plot.ruleY([medBy.liv],{x1:0,x2:1.0,stroke:GRN,strokeDasharray:"3,2",strokeWidth:0.8}),
    Plot.ruleY([medBy.bk],{x1:-0.04,x2:0.95,stroke:"#000",strokeWidth:0.8}),
    ...vBr(brBy),
    Plot.text(["*"],{x:1.17,y:(medBy.mus+medBy.bk)/2,text:d=>d,fill:RED,fontSize:7,textAnchor:"start",dx:1}),
    Plot.text(["****"],{x:1.19,y:(medBy.bk+medBy.liv)/2,text:d=>d,fill:GRN,fontSize:6,rotate:90,dx:2}),
    Plot.text(["****"],{x:1.32,y:(medBy.mus+medBy.liv)/2,text:d=>d,fill:YEL,fontSize:6,rotate:90,dx:3})
  ]}), 530, 70);

// ---------------- Panel C ----------------
const xDomC = [-7.37,4.24], yDomC = [-8.0,8.77];
put(Plot.plot({width:205,height:130,marginLeft:23,marginRight:9,marginTop:10,marginBottom:31,style:sty(7.5),
  x:{domain:xDomC}, y:{domain:yDomC},
  marks:[
    Plot.dot(bkgdPts,{...xy,r:2.7,fill:"#bebebe"}),
    Plot.dot(musclePtsC,{...xy,r:1.5,fill:"#a83232"}),
    Plot.dot(liverPtsC,{...xy,r:1.9,fill:"#2ee82e"}),
    Plot.dot(liverSqC,{...xy,r:4.5,symbol:"square",fill:"#2ee82e"}),
    Plot.dot(liverSqSmallC,{...xy,r:2.6,symbol:"square",fill:"#2ee82e"}),
    Plot.line(fitAC,{...xy,stroke:"#0000ff",strokeWidth:1.5}),
    Plot.frame({stroke:"#595959",strokeWidth:1.2}),
    ...scatterAxes([-5,-2.5,0,2.5], d=>d.toFixed(1), [-5,0,5], 7.5, 2.5, 1.5)
  ]}), 0, 243);
const brC = [{a:medC.liv,b:medC.mus,lev:1.43,drop:0.12,col:YEL,lab:"****"},{a:medC.liv,b:medC.mus,lev:1.14,drop:0.12,col:GRN,lab:"****"}];
put(Plot.plot({width:205,height:48,marginLeft:23,marginRight:9,marginTop:0,marginBottom:2,style:sty(6),color:{type:"identity"},
  x:{domain:xDomC,axis:null}, y:{domain:[0,1.64],axis:null},
  marks:[...hDens(rowsH(densCx,densCbk,densCmus,densCliv)),
    Plot.ruleX([medC.liv],{y1:0,y2:1.14,stroke:GRN,strokeDasharray:"2,1.5",strokeWidth:0.8}),
    Plot.ruleX([medC.mus],{y1:0,y2:1.0,stroke:RED,strokeDasharray:"2,1.5",strokeWidth:0.8}),
    Plot.ruleX([medC.bk],{y1:0,y2:1.0,stroke:"#000",strokeWidth:0.6}),
    ...hBr(brC),
    Plot.text(brC,{x:"b",y:"lev",text:"lab",fill:"col",dx:1.5,dy:0.5,textAnchor:"start",fontSize:6.5})
  ]}), 0, 178);
const brCy = [{x:1.18,x0:1.07,a:medCy.bk,b:medCy.liv,col:YEL}];
put(Plot.plot({width:95,height:130,marginLeft:7,marginRight:22,marginTop:10,marginBottom:31,style:sty(6),color:{type:"identity"},
  x:{domain:[0,1],axis:null}, y:{domain:yDomC,axis:null},
  marks:[...vDens(rowsV(densCy,densCybk,densCymus,densCyliv)),
    Plot.ruleX([0],{y1:-7.3,y2:8.3,stroke:"#000",strokeWidth:0.8}),
    Plot.ruleY([medCy.mus],{x1:0,x2:1.1,stroke:RED,strokeDasharray:"2,1.5",strokeWidth:0.8}),
    Plot.ruleY([medCy.liv],{x1:0,x2:1.1,stroke:GRN,strokeDasharray:"2,1.5",strokeWidth:0.9}),
    Plot.ruleY([medCy.bk],{x1:0,x2:1.07,stroke:"#000",strokeWidth:0.8}),
    ...vBr(brCy),
    Plot.text(["****"],{x:1.08,y:2.2,text:d=>d,fill:RED,fontSize:6,rotate:90}),
    Plot.text(["****"],{x:1.08,y:-2.9,text:d=>d,fill:GRN,fontSize:6,rotate:90}),
    Plot.text(["****"],{x:1.16,y:-2.9,text:d=>d,fill:YEL,fontSize:6,rotate:90})
  ]}), 220, 243);

// ---------------- Panels D & E (box plots) ----------------
function boxPanel(cfg){
  const n = cfg.labels.length, idx = d3.range(n);
  const cols = d3.quantize(d3.interpolateViridis, n).reverse();
  const stats = idx.map(i=>({i, q1:cfg.q1[i], med:cfg.med[i], q3:cfg.q3[i], lo:cfg.lo[i], hi:cfg.hi[i]}));
  const pts = cfg.pts.map(([i,v,j])=>({i,v,j}));
  const w = cfg.hw, [y0,y1] = cfg.yDom;
  return Plot.plot({width:cfg.width,height:cfg.height,marginLeft:cfg.ml,marginRight:cfg.mr,marginTop:cfg.mt,marginBottom:cfg.mb,
    style:sty(5.5,"#666"), color:{type:"identity"},
    x:{domain:[-0.5,n-0.5]}, y:{domain:cfg.yDom},
    marks:[
      Plot.frame({fill:"#e5e5e5",stroke:"none"}),
      Plot.rect(cfg.groups,{x1:d=>d.first-0.43,x2:d=>d.last+0.45,y1:y0+cfg.gPad,y2:cfg.gTop,stroke:"color",fill:"none",strokeWidth:1.1}),
      Plot.text(cfg.groups,{x:d=>(d.first+d.last)/2,y:cfg.gLab,text:"label",fill:"color",fontSize:7}),
      Plot.ruleY([cfg.ref],{stroke:"#444",strokeDasharray:"3,2.5",strokeWidth:0.8}),
      Plot.ruleX(stats,{x:"i",y1:"lo",y2:"hi",stroke:"#222",strokeWidth:0.6}),
      Plot.ruleY(stats,{y:"lo",x1:d=>d.i-0.1,x2:d=>d.i+0.1,stroke:"#222",strokeWidth:0.6}),
      Plot.ruleY(stats,{y:"hi",x1:d=>d.i-0.1,x2:d=>d.i+0.1,stroke:"#222",strokeWidth:0.6}),
      Plot.rect(stats,{x1:d=>d.i-w,x2:d=>d.i+w,y1:"q1",y2:"q3",fill:d=>cols[d.i],fillOpacity:0.65,stroke:"#555",strokeWidth:0.6}),
      Plot.ruleY(stats,{y:"med",x1:d=>d.i-w,x2:d=>d.i+w,stroke:"#333",strokeWidth:0.8}),
      Plot.dot(pts,{x:d=>d.i+d.j,y:"v",r:1.3,fill:"#111"}),
      ...(cfg.sig ? [Plot.text(cfg.sig,{x:"i",y:"v",text:"lab",fontSize:9,fill:"#222"})] : []),
      Plot.ruleX([-0.5],{stroke:"#9a9a9a",strokeWidth:1.6}),
      Plot.ruleY([y0],{stroke:"#9a9a9a",strokeWidth:1.6}),
      Plot.axisY({ticks:cfg.yTicks,tickFormat:cfg.yFmt,tickSize:2,tickPadding:1.5,fontSize:5.5,label:null}),
      Plot.axisX({ticks:idx,tickFormat:i=>cfg.labels[i],tickSize:0,tickPadding:cfg.xPad,fontSize:cfg.xFs,lineHeight:cfg.xLh,fill:"#777",label:null})
    ]});
}
put(boxPanel({labels:dLabels,q1:dQ1,med:dMed,q3:dQ3,lo:dLo,hi:dHi,pts:dPts,groups:dGroups,sig:dSig,
  width:213,height:140,ml:25,mr:8,mt:9,mb:32,yDom:[-1.37,1.05],hw:0.36,gPad:0.03,gTop:0.73,gLab:0.93,ref:0,
  yTicks:[-1,-0.5,0,0.5,1],yFmt:d=>d.toFixed(1),xPad:2.5,xFs:5.1,xLh:1.22}), 322, 215);
put(boxPanel({labels:eLabels,q1:eQ1,med:eMed,q3:eQ3,lo:eLo,hi:eHi,pts:ePts,groups:eGroups,sig:null,
  width:211,height:135,ml:23,mr:3,mt:10,mb:19,yDom:[0.67,3.88],hw:0.4,gPad:0.08,gTop:3.55,gLab:3.73,ref:1,
  yTicks:[1,2,3],yFmt:d=>String(d),xPad:2,xFs:5,xLh:1.2}), 540, 215);

// ---------------- Panel F ----------------
const fGX = {OtherCancers:1, FLC:2}, fOff = {"DMSO":-0.215, "2-DG":0.215};
const repCol = Object.fromEntries(fReps.map((r,i)=>[r,["#440154","#46337E","#365C8D","#277F8E","#1FA187","#4AC16D","#9FDA3A","#FDE725"][i]]));
const xcF = d => fGX[d.grp] + fOff[d.trt];
const fBoxStroke = {"DMSO":"#b3b3b3","2-DG":"#5a5a5a"}, fMedStroke = {"DMSO":"#8c8c8c","2-DG":"#1a1a1a"}, fPtStroke = {"DMSO":"#c8c8c8","2-DG":"#333333"};
const fPtRows = fPts.map(([grp,trt,rep,v,j])=>({grp,trt,rep,v,j}));
put(Plot.plot({width:315,height:179,marginLeft:38,marginRight:10,marginTop:10,marginBottom:16,style:sty(10.5,"#4d4d4d"),color:{type:"identity"},
  x:{domain:[0.41,2.6]}, y:{domain:[70.2,140.4]},
  marks:[
    Plot.ruleX(fStats,{x:xcF,y1:"lo",y2:"hi",stroke:d=>fBoxStroke[d.trt],strokeWidth:1}),
    Plot.ruleY(fStats,{y:"lo",x1:d=>xcF(d)-0.035,x2:d=>xcF(d)+0.035,stroke:d=>fBoxStroke[d.trt],strokeWidth:1}),
    Plot.ruleY(fStats,{y:"hi",x1:d=>xcF(d)-0.035,x2:d=>xcF(d)+0.035,stroke:d=>fBoxStroke[d.trt],strokeWidth:1}),
    Plot.rect(fStats,{x1:d=>xcF(d)-0.13,x2:d=>xcF(d)+0.13,y1:"q1",y2:"q3",fill:"#fff",stroke:d=>fBoxStroke[d.trt],strokeWidth:1}),
    Plot.ruleY(fStats,{y:"med",x1:d=>xcF(d)-0.13,x2:d=>xcF(d)+0.13,stroke:d=>fMedStroke[d.trt],strokeWidth:1.3}),
    Plot.ruleY([100],{stroke:"#111",strokeWidth:1.6,strokeDasharray:"9,3,2,3"}),
    Plot.dot(fPtRows,{x:d=>xcF(d)+d.j,y:"v",r:3.4,fill:d=>repCol[d.rep],stroke:d=>fPtStroke[d.trt],strokeWidth:0.8}),
    Plot.ruleY(fSig,{y:"y",x1:d=>fGX[d.grp]-0.25,x2:d=>fGX[d.grp]+0.25,stroke:"#222",strokeWidth:1.6}),
    Plot.text(fSig,{x:d=>fGX[d.grp],y:"y",text:"lab",dy:-6.5,fontSize:9,fill:"#222"}),
    Plot.ruleX([0.41],{stroke:"#333",strokeWidth:1}),
    Plot.ruleY([70.2],{stroke:"#333",strokeWidth:1}),
    Plot.axisY({ticks:[80,100,120,140],tickSize:3,tickPadding:2,label:null}),
    Plot.axisX({ticks:[1,2],tickFormat:v=>fGroupsX[v-1],tickSize:3,tickPadding:1,fill:"#1a1a1a",label:null})
  ]}), 0, 400);

// ---------------- Panel G ----------------
function gPanel(stats, pts, h, mt, mb, yDom, showX){
  const gCols = ["#FDE725","#440154"];
  const rows = pts.map(([t,v,j])=>({t,v,j}));
  return Plot.plot({width:236,height:h,marginLeft:26,marginRight:11,marginTop:mt,marginBottom:mb,style:sty(5.5,"#777"),color:{type:"identity"},
    x:{domain:[-0.596,1.64], axis: showX ? undefined : null}, y:{domain:yDom},
    marks:[
      Plot.rect(stats,{x1:d=>d.t-0.38,x2:d=>d.t+0.38,y1:"q1",y2:"q3",fill:d=>gCols[d.t],fillOpacity:0.6,stroke:"#666",strokeWidth:1}),
      Plot.ruleX(stats,{x:"t",y1:"lo",y2:"hi",stroke:"#333",strokeWidth:0.7}),
      Plot.ruleY(stats,{y:"lo",x1:d=>d.t-0.27,x2:d=>d.t+0.27,stroke:"#333",strokeWidth:0.8}),
      Plot.ruleY(stats,{y:"hi",x1:d=>d.t-0.27,x2:d=>d.t+0.27,stroke:"#333",strokeWidth:0.8}),
      Plot.ruleY(stats,{y:"med",x1:d=>d.t-0.38,x2:d=>d.t+0.38,stroke:"#333",strokeWidth:0.8}),
      Plot.ruleY([100],{stroke:"#8a8a8a",strokeDasharray:"2.5,2",strokeWidth:0.8}),
      Plot.dot(rows,{x:d=>d.t+d.j,y:"v",r:1.6,fill:"#111"}),
      Plot.ruleX([-0.596],{stroke:"#9a9a9a",strokeWidth:0.8}),
      ...(showX ? [Plot.ruleY([yDom[0]],{stroke:"#9a9a9a",strokeWidth:0.8}),
        Plot.axisX({ticks:[0,1],tickFormat:t=>gTreat[t],tickSize:0,tickPadding:2,fontSize:5,lineHeight:1.25,label:null})] : []),
      Plot.axisY({ticks:[50,100,150],tickSize:0,tickPadding:3,fontSize:5.3,label:null})
    ]});
}
put(gPanel(gStatsFLC, gPtsFLC, 80, 7, 5, [26.5,176.6], false), 515, 395);
put(gPanel(gStatsHCC, gPtsHCC, 89, 5, 13, [24.9,180], true), 515, 490);

// ======================= TEXT, TITLES, LEGENDS =======================
// panel letters
[["A",1,10],["B",332,10],["C",1,200],["D",333,200],["E",551,197],["F",1,384],["G",511,383]].forEach(([s,x,y])=>txt(s,x,y,{size:13,bold:true,color:"#000"}));
// gene-set legends
function geneLegend(cx, ty, sqX, lnX, tX, ys, labels, cols, dashes){
  txt("Gene.Set", cx, ty, {size:6.8, anchor:"middle", underline:true, color:"#333"});
  ys.forEach((y,i)=>{
    box(sqX, y-3, 6, 6, {background:cols[i], border:"0.5px solid #999", boxSizing:"border-box"});
    box(lnX, y-0.5, 13, 0, {borderTop:`1px ${dashes[i]} ${["#000",RED,GRN][i]}`});
    txt(labels[i], tX, y, {size:6.8, color:"#333"});
  });
}
geneLegend(248, 15, 185, 197, 213, [26,34.3,42.7], ["Bkgd(n=8040)","Glycolysis(n=97)","Glucose Produce/Store(n=45)"], ["#bdbdbd","#ff0000","#00ff00"], ["solid","dashed","dotted"]);
geneLegend(570, 19, 502, 513, 529, [30.7,38.7,47], ["Bkgd (n=91)","Muscle-Specific Enzymes(n=19)","Liver-Specific Enzymes(n=26)"], ["#bdbdbd","#ff0000","#00ff00"], ["solid","dashed","dotted"]);
geneLegend(243, 198, 180, 194, 207, [208.3,216,223.7], ["Bkgd (n=8040)","Muscle-Specific Enzymes(n=591)","Liver-Specific Enzymes(n=745)"], ["#bdbdbd","#ff0000","#00ff00"], ["solid","dashed","dotted"]);
// correlation labels
txt("<i>R</i> = 0.57, <i>p</i> &lt; 2.2e-16", 32, 79, {html:true, size:7, color:"#222"});
txt("<i>R</i> = 0.88, <i>p</i> &lt; 2.2e-16", 353, 88, {html:true, size:7, color:"#222"});
txt("<i>R</i> = 0.57, <i>p</i> &lt; 2.2e-16", 32, 263, {html:true, size:7, color:"#222"});
// scatter axis titles
txt("Pro log2FC (Z-Score)", 107, 173, {size:7.6, anchor:"middle"});
txt("RNA log2FC (Z-Score)", 6.5, 112, {size:7.6, anchor:"middle", rotate:-90});
txt("Pro log2FC (Z-Score)", 427, 177.5, {size:7.6, anchor:"middle"});
txt("RNA log2FC (Z-Score)", 329, 121, {size:7.6, anchor:"middle", rotate:-90});
txt("Pro log2FC (Z-Score)", 110, 358, {size:7.6, anchor:"middle"});
txt("RNA log2FC (Z-Score)", 6.5, 298, {size:7.6, anchor:"middle", rotate:-90});
// D & E
txt("Glucose Titration on FLC Cell Model", 437, 201, {size:9.3, bold:true, anchor:"middle", color:"#111"});
txt("6-Day Trial: ATP Abundance", 437, 212, {size:8, bold:true, italic:true, anchor:"middle", color:"#111"});
txt("ATP[log2(RQV)]", 333, 287, {size:7.5, anchor:"middle", rotate:-90});
txt("Glucose Concentration(mM)", 437, 352.5, {size:8.2, anchor:"middle"});
txt("Glucose Titration on FLC Cell Model", 655, 198, {size:9.3, bold:true, anchor:"middle", color:"#111"});
txt("6-Day Trial: Cell Death", 655, 212, {size:8, bold:true, italic:true, anchor:"middle", color:"#111"});
txt("Cell Death: RQV", 553, 283, {size:7.5, anchor:"middle", rotate:-90});
txt("Glucose Concentration(mM)", 655, 352.5, {size:8.2, anchor:"middle"});
// F
txt("Inhibition of Glycolysis in Patient Tissue Slices", 171, 386, {size:12, bold:true, anchor:"middle", color:"#111"});
txt("2-DG administration (2.5uM)", 171, 399.5, {size:10.5, bold:true, italic:true, anchor:"middle", color:"#111"});
txt("Viability(RQV)", 8, 487, {size:10.5, anchor:"middle", rotate:-90});
txt("Replicate", 318, 403, {size:10.5});
fReps.forEach((r,i)=>{
  const y = 417 + 13.5*i;
  box(322, y-3.3, 6.6, 6.6, {background:repCol[r], borderRadius:"50%", border:"0.6px solid #555", boxSizing:"border-box"});
  txt(r, 334, y, {size:10.5});
});
txt("Treatment", 318, 539, {size:10.5});
fTreat.forEach((t,i)=>{
  const y = 555 + 13*i;
  box(322, y-3.3, 6.6, 6.6, {borderRadius:"50%", border:`0.9px solid ${fPtStroke[t]}`, boxSizing:"border-box"});
  txt(t, 334, y, {size:10.5});
});
// G
txt("Inhibition of Glycolysis (2-DG) in Tissue Slices", 628, 369, {size:8.6, bold:true, anchor:"middle", color:"#111"});
txt("Tissue slices derived from mouse flank tumors", 638, 380, {size:6.7, bold:true, italic:true, anchor:"middle", color:"#111"});
txt("FLC (tumor derived from seeding with FLC primary cells)", 639, 397, {size:5.3, bold:true, anchor:"middle", color:"#111"});
txt("HCC (tumor derived from seeding with HepG2 cells)", 637, 490, {size:5.3, bold:true, anchor:"middle", color:"#111"});
txt("Viability (RQV)", 525, 490, {size:6.5, anchor:"middle", rotate:-90, color:"#333"});
</script>
</body>
</html>
